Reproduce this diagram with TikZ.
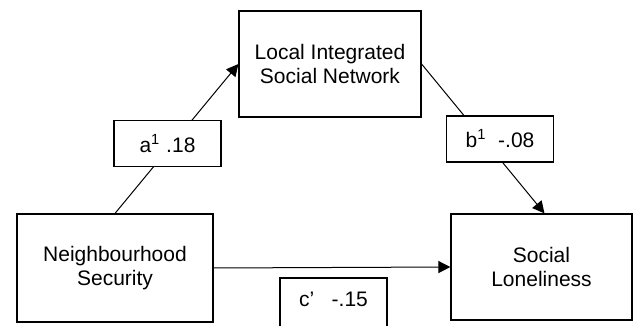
\documentclass[tikz,border=0pt]{standalone}
\usepackage{fontspec}
\setmainfont{Liberation Sans}
\usetikzlibrary{arrows.meta}

\begin{document}
\begin{tikzpicture}[
    x=0.5pt, y=-0.5pt,
    var/.style={rectangle, draw, line width=0.6pt, align=center, font=\fontsize{10.5}{12}\selectfont},
    coef/.style={rectangle, draw, fill=white, line width=0.6pt, minimum width=53.5pt, minimum height=23pt, inner sep=0pt, font=\fontsize{10.5}{12}\selectfont},
    arrow/.style={-{Triangle[length=6pt, width=6pt]}, line width=0.5pt}
]
\clip (0,0) rectangle (633,326);

% Variables
\node[var, minimum width=91pt, minimum height=53pt] (LISN) at (330,64) {Local Integrated\\Social Network};
\node[var, minimum width=98pt, minimum height=54pt] (NS) at (115,268) {Neighbourhood\\Security};
\node[var, minimum width=90.5pt, minimum height=53pt] (SL) at (541.5,267) {Social\\Loneliness};

% Paths
\draw[arrow] (NS.north) -- (LISN.west);
\draw[arrow] (LISN.east) -- ([xshift=1.5pt]SL.north);
\draw[arrow] (NS.east) -- (SL.west);

% Coefficients
\node[coef] (a1) at (167.5,143.5) {a\textsuperscript{1} .18};
\node[coef] (b1) at (500,139) {b\textsuperscript{1}\ \ -.08};
\node[coef, minimum height=26pt, text depth=5pt] (c1) at (333.5,304) {c’\ \ \ -.15};
\end{tikzpicture}
\end{document}
